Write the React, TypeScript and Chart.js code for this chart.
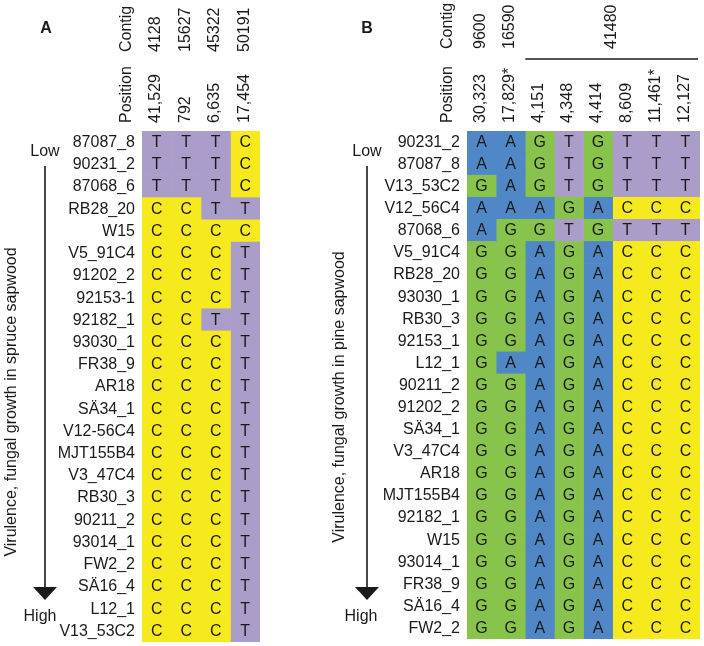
import React, { useEffect, useRef } from "react";
import { Chart, registerables } from "chart.js";

Chart.register(...registerables);

// ---------- DATA ----------
const rowsA = [
  "87087_8", "90231_2", "87068_6", "RB28_20", "W15", "V5_91C4", "91202_2", "92153-1",
  "92182_1", "93030_1", "FR38_9", "AR18", "SÄ34_1", "V12-56C4", "MJT155B4", "V3_47C4",
  "RB30_3", "90211_2", "93014_1", "FW2_2", "SÄ16_4", "L12_1", "V13_53C2",
];
const genotypesA = [
  "TTTC", "TTTC", "TTTC", "CCTT", "CCCC", "CCCT", "CCCT", "CCCT",
  "CCTT", "CCCT", "CCCT", "CCCT", "CCCT", "CCCT", "CCCT", "CCCT",
  "CCCT", "CCCT", "CCCT", "CCCT", "CCCT", "CCCT", "CCCT",
];
const contigsA = ["4128", "15627", "45322", "50191"];
const contigColsA = [[0, 0], [1, 1], [2, 2], [3, 3]];
const positionsA = ["41,529", "792", "6,635", "17,454"];

const rowsB = [
  "90231_2", "87087_8", "V13_53C2", "V12_56C4", "87068_6", "V5_91C4", "RB28_20", "93030_1",
  "RB30_3", "92153_1", "L12_1", "90211_2", "91202_2", "SÄ34_1", "V3_47C4", "AR18",
  "MJT155B4", "92182_1", "W15", "93014_1", "FR38_9", "SÄ16_4", "FW2_2",
];
const genotypesB = [
  "AAGTGTTT", "AAGTGTTT", "GAGTGTTT", "AAAGACCC", "AGGTGTTT", "GGAGACCC", "GGAGACCC", "GGAGACCC",
  "GGAGACCC", "GGAGACCC", "GAAGACCC", "GGAGACCC", "GGAGACCC", "GGAGACCC", "GGAGACCC", "GGAGACCC",
  "GGAGACCC", "GGAGACCC", "GGAGACCC", "GGAGACCC", "GGAGACCC", "GGAGACCC", "GGAGACCC",
];
const contigsB = ["9600", "16590", "41480"];
const contigColsB = [[0, 0], [1, 1], [2, 7]];
const positionsB = ["30,323", "17,829*", "4,151", "4,348", "4,414", "8,609", "11,461*", "12,127"];

const baseColors: Record<string, string> = {
  A: "#4f87c7",
  C: "#f6ea1c",
  G: "#88c34b",
  T: "#ab9dca",
};

const FONT = '"Liberation Sans", Arial, Helvetica, sans-serif';

type PanelCfg = {
  letter: string;
  rows: string[];
  genotypes: string[];
  contigs: string[];
  contigCols: number[][];
  positions: string[];
  axisTitle: string;
  canvasLeft: number;
  canvasWidth: number;
  padding: { left: number; right: number; top: number; bottom: number };
  letterPos: [number, number];
  headerLabelX: number;
  contigBottom: number;
  positionBottom: number;
  contigLineY: number;
  arrowX: number;
  lowX: number;
  highX: number;
  titleX: number;
  titleY: number;
};

const panels: PanelCfg[] = [
  {
    letter: "A",
    rows: rowsA,
    genotypes: genotypesA,
    contigs: contigsA,
    contigCols: contigColsA,
    positions: positionsA,
    axisTitle: "Virulence, fungal growth in spruce sapwood",
    canvasLeft: 0,
    canvasWidth: 330,
    padding: { left: 142, right: 70, top: 131, bottom: 4 },
    letterPos: [46, 29],
    headerLabelX: 127,
    contigBottom: 52,
    positionBottom: 123,
    contigLineY: 59,
    arrowX: 45,
    lowX: 45,
    highX: 40,
    titleX: 12,
    titleY: 402,
  },
  {
    letter: "B",
    rows: rowsB,
    genotypes: genotypesB,
    contigs: contigsB,
    contigCols: contigColsB,
    positions: positionsB,
    axisTitle: "Virulence, fungal growth in pine sapwood",
    canvasLeft: 330,
    canvasWidth: 374,
    padding: { left: 137, right: 4, top: 131, bottom: 7 },
    letterPos: [37, 29],
    headerLabelX: 118,
    contigBottom: 49,
    positionBottom: 123,
    contigLineY: 59,
    arrowX: 37,
    lowX: 37,
    highX: 31,
    titleX: 10,
    titleY: 397,
  },
];

function drawRotated(ctx: CanvasRenderingContext2D, text: string, x: number, bottom: number) {
  ctx.save();
  ctx.translate(x, bottom);
  ctx.rotate(-Math.PI / 2);
  ctx.textAlign = "left";
  ctx.textBaseline = "middle";
  ctx.fillText(text, 0, 0);
  ctx.restore();
}

function Panel({ cfg }: { cfg: PanelCfg }) {
  const ref = useRef<HTMLCanvasElement | null>(null);

  useEffect(() => {
    if (!ref.current) return;
    const ncols = cfg.positions.length;
    const datasets = cfg.positions.map((_, j) => ({
      label: cfg.positions[j],
      data: cfg.genotypes.map(() => [j, j + 1]),
      backgroundColor: cfg.genotypes.map((g) => baseColors[g[j]]),
      borderWidth: 0,
      barPercentage: 1,
      categoryPercentage: 1,
      grouped: false,
    }));

    const overlay = {
      id: "overlay" + cfg.letter,
      afterDatasetsDraw(chart: any) {
        const ctx: CanvasRenderingContext2D = chart.ctx;
        const xs = chart.scales.x;
        const ys = chart.scales.y;
        const area = chart.chartArea;
        ctx.save();
        ctx.fillStyle = "#1a1a1a";
        ctx.font = `16px ${FONT}`;

        // cell letters
        ctx.textAlign = "center";
        ctx.textBaseline = "middle";
        cfg.genotypes.forEach((g, i) => {
          const y = ys.getPixelForValue(i);
          for (let j = 0; j < ncols; j++) {
            ctx.fillText(g[j], xs.getPixelForValue(j + 0.5), y + 0.5);
          }
        });

        // row labels
        ctx.textAlign = "right";
        cfg.rows.forEach((r, i) => {
          ctx.fillText(r, area.left - 7, ys.getPixelForValue(i) + 0.5);
        });

        // header labels
        drawRotated(ctx, "Contig", cfg.headerLabelX, cfg.contigBottom);
        drawRotated(ctx, "Position", cfg.headerLabelX, cfg.positionBottom);
        cfg.contigs.forEach((c, k) => {
          const [s, e] = cfg.contigCols[k];
          const x0 = xs.getPixelForValue(s);
          const x1 = xs.getPixelForValue(e + 1);
          drawRotated(ctx, c, (x0 + x1) / 2 - 1, cfg.contigBottom);
          if (e > s) {
            ctx.strokeStyle = "#1a1a1a";
            ctx.lineWidth = 1.5;
            ctx.beginPath();
            ctx.moveTo(x0, cfg.contigLineY);
            ctx.lineTo(x1 - 2, cfg.contigLineY);
            ctx.stroke();
          }
        });
        cfg.positions.forEach((p, j) => {
          drawRotated(ctx, p, xs.getPixelForValue(j + 0.5) - 1, cfg.positionBottom);
        });

        // panel letter
        ctx.font = `bold 16px ${FONT}`;
        ctx.textAlign = "center";
        ctx.textBaseline = "middle";
        ctx.fillText(cfg.letter, cfg.letterPos[0], cfg.letterPos[1]);

        // arrow
        ctx.font = `16px ${FONT}`;
        ctx.fillText("Low", cfg.lowX, 152);
        ctx.fillText("High", cfg.highX, 617);
        ctx.strokeStyle = "#1a1a1a";
        ctx.lineWidth = 1.6;
        ctx.beginPath();
        ctx.moveTo(cfg.arrowX, 166);
        ctx.lineTo(cfg.arrowX, 590);
        ctx.stroke();
        ctx.beginPath();
        ctx.moveTo(cfg.arrowX - 12, 587);
        ctx.lineTo(cfg.arrowX + 12, 587);
        ctx.lineTo(cfg.arrowX, 600);
        ctx.closePath();
        ctx.fill();

        // axis title
        ctx.save();
        ctx.translate(cfg.titleX, cfg.titleY);
        ctx.rotate(-Math.PI / 2);
        ctx.textAlign = "center";
        ctx.textBaseline = "middle";
        ctx.fillText(cfg.axisTitle, 0, 0);
        ctx.restore();

        ctx.restore();
      },
    };

    const chart = new Chart(ref.current, {
      type: "bar",
      data: { labels: cfg.rows, datasets: datasets as any },
      options: {
        indexAxis: "y",
        responsive: false,
        animation: false,
        devicePixelRatio: 1,
        layout: { padding: cfg.padding },
        scales: {
          x: { type: "linear", min: 0, max: ncols, display: false },
          y: { type: "category", display: false, offset: true },
        },
        plugins: {
          legend: { display: false },
          tooltip: { enabled: false },
        },
      },
      plugins: [overlay],
    });
    return () => chart.destroy();
  }, [cfg]);

  return (
    <canvas
      ref={ref}
      width={cfg.canvasWidth}
      height={646}
      style={{
        position: "absolute",
        left: cfg.canvasLeft,
        top: 0,
        width: cfg.canvasWidth,
        height: 646,
        display: "block",
      }}
    />
  );
}

export default function App() {
  return (
    <div
      style={{
        position: "absolute",
        left: 0,
        top: 0,
        width: 704,
        height: 646,
        background: "#ffffff",
        overflow: "hidden",
      }}
    >
      {panels.map((p) => (
        <Panel key={p.letter} cfg={p} />
      ))}
    </div>
  );
}
